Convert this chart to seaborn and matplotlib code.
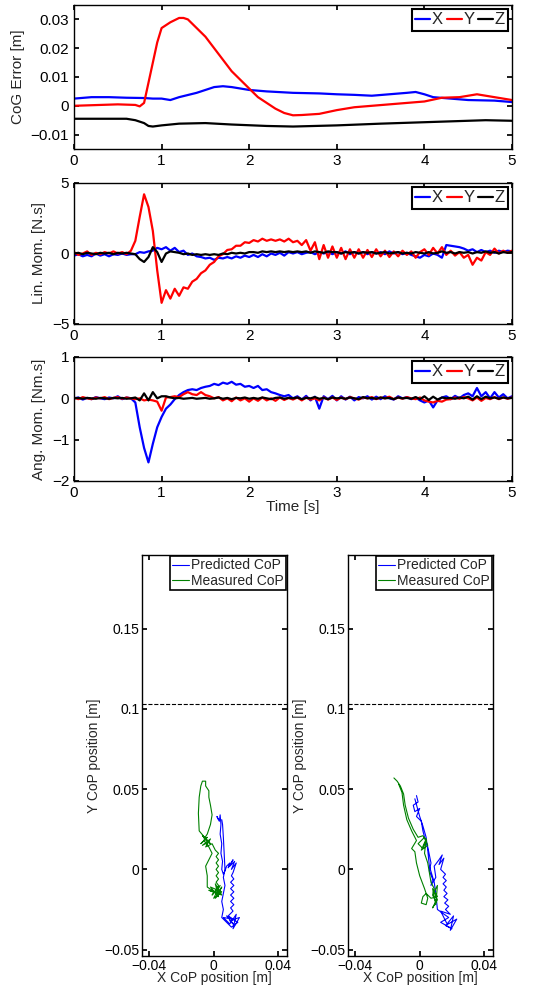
import numpy as np
import pandas as pd
import matplotlib
matplotlib.use("Agg")
import matplotlib.pyplot as plt
import seaborn as sns
from matplotlib.ticker import FuncFormatter

# ---- CoG error (smooth traces, read at key times) ----
cog_x_t = [0, 0.2, 0.4, 0.6, 0.8, 0.9, 1.0, 1.1, 1.2, 1.4, 1.6, 1.7, 1.8, 2.0, 2.2, 2.5,
           2.8, 3.0, 3.2, 3.4, 3.6, 3.8, 3.9, 4.0, 4.1, 4.3, 4.5, 4.8, 5.0]
cog_x = [0.0025, 0.003, 0.003, 0.0028, 0.0027, 0.0025, 0.0025, 0.002, 0.003, 0.0045, 0.0065,
         0.0068, 0.0065, 0.0055, 0.005, 0.0045, 0.0043, 0.004, 0.0038, 0.0035, 0.004, 0.0045,
         0.0048, 0.004, 0.003, 0.0025, 0.002, 0.0018, 0.0013]
cog_y_t = [0, 0.3, 0.5, 0.7, 0.75, 0.8, 0.85, 0.9, 0.95, 1.0, 1.1, 1.2, 1.25, 1.3, 1.4, 1.5,
           1.6, 1.7, 1.8, 1.9, 2.0, 2.1, 2.2, 2.3, 2.4, 2.5, 2.6, 2.8, 3.0, 3.2, 3.4, 3.6,
           3.8, 4.0, 4.2, 4.4, 4.6, 4.7, 4.8, 5.0]
cog_y = [0.0, 0.0003, 0.0005, 0.0003, -0.0002, 0.001, 0.008, 0.015, 0.022, 0.027, 0.029,
         0.0305, 0.0305, 0.030, 0.027, 0.024, 0.020, 0.016, 0.012, 0.009, 0.006, 0.003, 0.001,
         -0.001, -0.0025, -0.0033, -0.0032, -0.0028, -0.0015, -0.0005, 0.0, 0.0005, 0.001,
         0.0015, 0.0028, 0.003, 0.004, 0.0035, 0.003, 0.002]
cog_z_t = [0, 0.6, 0.7, 0.8, 0.85, 0.9, 1.0, 1.2, 1.5, 1.8, 2.2, 2.5, 3.0, 3.5, 4.0, 4.5, 4.7, 5.0]
cog_z = [-0.0045, -0.0045, -0.005, -0.006, -0.007, -0.0072, -0.0068, -0.0062, -0.006, -0.0065,
         -0.007, -0.0072, -0.0068, -0.0062, -0.0057, -0.0052, -0.005, -0.0052]

# ---- momenta, sampled every 0.05 s from 0 to 5 s ----
time_s = np.linspace(0, 5, 101)

lin_x = [-0.15, -0.05, -0.2, -0.1, -0.2, 0.0, -0.15, -0.05, -0.2, -0.05,
         -0.1, 0.0, -0.1, -0.05, -0.05, 0.1, 0.05, 0.15, 0.2, 0.4,
         0.3, 0.45, 0.2, 0.4, 0.1, 0.2, -0.1, 0.0, -0.2, -0.25,
         -0.35, -0.3, -0.45, -0.3, -0.35, -0.25, -0.35, -0.2, -0.3, -0.15,
         -0.25, -0.1, -0.25, -0.05, -0.2, 0.0, -0.1, 0.05, -0.15, 0.1,
         0.0, 0.1, -0.05, 0.05, 0.1, -0.05, 0.1, 0.0, 0.1, -0.05,
         0.1, 0.0, 0.15, -0.05, 0.1, 0.0, 0.1, -0.05, 0.1, 0.0,
         0.1, -0.05, 0.15, 0.0, 0.1, -0.05, 0.05, -0.1, -0.2, -0.3,
         -0.1, -0.2, 0.0, -0.1, -0.3, 0.6, 0.55, 0.5, 0.45, 0.35,
         0.2, 0.3, 0.1, 0.25, 0.1, 0.2, 0.05, 0.2, 0.1, 0.2,
         0.15]
lin_y = [0.1, -0.1, 0.0, 0.15, -0.1, 0.05, -0.05, 0.1, 0.0, 0.15,
         0.0, 0.1, -0.05, 0.2, 0.9, 2.6, 4.2, 3.3, 1.6, -1.2,
         -3.5, -2.6, -3.2, -2.5, -3.0, -2.4, -2.5, -2.0, -1.8, -1.4,
         -1.2, -0.8, -0.6, -0.2, -0.05, 0.25, 0.3, 0.55, 0.55, 0.8,
         0.75, 0.95, 0.85, 1.05, 0.9, 1.0, 0.9, 1.0, 0.85, 1.05,
         0.8, 0.9, 0.6, 0.95, 0.2, 0.8, -0.4, 0.6, -0.3, 0.5,
         -0.3, 0.4, -0.4, 0.3, -0.3, 0.3, -0.3, 0.25, -0.25, 0.3,
         -0.2, 0.2, -0.25, 0.15, -0.2, 0.2, -0.1, 0.15, -0.3, 0.1,
         0.3, -0.1, 0.4, 0.0, 0.45, -0.1, 0.2, -0.15, 0.1, -0.3,
         -0.1, -0.8, -0.3, -0.5, 0.1, -0.1, 0.35, 0.0, 0.2, 0.05,
         0.2]
lin_z = [0.0, 0.05, -0.05, 0.05, 0.0, -0.05, 0.05, 0.0, 0.05, -0.05,
         0.05, 0.0, 0.05, 0.0, -0.05, -0.4, -0.6, -0.25, 0.45, 0.1,
         -0.6, 0.0, 0.15, 0.1, 0.05, -0.05, 0.0, -0.1, -0.05, -0.1,
         -0.05, -0.1, -0.05, -0.1, 0.0, -0.05, 0.05, 0.0, 0.05, 0.0,
         0.1, 0.1, 0.05, 0.15, 0.1, 0.15, 0.1, 0.15, 0.1, 0.15,
         0.1, 0.15, 0.1, 0.15, 0.05, 0.15, 0.1, 0.05, 0.15, 0.1,
         0.1, 0.0, 0.1, 0.05, 0.1, 0.0, 0.1, 0.05, 0.1, 0.0,
         0.05, 0.1, 0.0, 0.05, 0.1, 0.0, 0.05, 0.0, 0.1, 0.05,
         0.0, 0.1, 0.0, 0.05, 0.15, 0.05, 0.1, 0.0, 0.1, 0.05,
         0.1, 0.0, 0.1, 0.05, 0.15, 0.05, 0.1, 0.0, 0.1, 0.05,
         0.1]

ang_x = [0.0, 0.02, -0.03, 0.01, -0.02, 0.03, 0.0, -0.02, 0.02, 0.0,
         0.05, -0.02, 0.02, 0.0, -0.1, -0.7, -1.2, -1.55, -1.1, -0.7,
         -0.45, -0.25, -0.15, -0.02, 0.08, 0.15, 0.2, 0.22, 0.2, 0.25,
         0.28, 0.3, 0.35, 0.32, 0.38, 0.35, 0.4, 0.33, 0.35, 0.28,
         0.3, 0.25, 0.3, 0.2, 0.22, 0.15, 0.12, 0.08, 0.05, 0.08,
         0.0, 0.05, -0.03, 0.06, -0.05, 0.04, -0.25, 0.05, -0.02, 0.06,
         -0.05, 0.05, -0.03, 0.04, -0.05, 0.03, 0.0, 0.05, -0.03, 0.04,
         -0.02, 0.05, 0.0, -0.03, 0.05, 0.0, 0.03, -0.02, 0.02, -0.05,
         -0.1, -0.05, -0.22, -0.05, 0.02, 0.05, -0.02, 0.06, 0.0, 0.08,
         0.12, 0.05, 0.25, 0.05, 0.15, 0.0, 0.15, 0.02, 0.1, 0.0,
         0.05]
ang_y = [0.02, -0.02, 0.03, 0.0, -0.02, 0.02, 0.0, 0.03, -0.02, 0.01,
         0.03, -0.01, 0.02, 0.0, -0.02, 0.0, -0.05, -0.03, -0.05, -0.08,
         -0.3, 0.02, 0.03, 0.05, 0.03, 0.1, 0.15, 0.1, 0.08, 0.15,
         0.08, 0.05, 0.0, 0.03, -0.05, 0.0, -0.07, 0.02, -0.05, 0.0,
         -0.08, 0.0, -0.06, 0.02, -0.05, 0.0, -0.06, 0.02, -0.04, 0.01,
         -0.03, 0.02, -0.05, 0.02, -0.03, 0.0, -0.05, 0.02, -0.03, 0.02,
         -0.04, 0.02, -0.02, 0.03, 0.0, -0.03, 0.02, 0.0, 0.03, -0.02,
         0.02, 0.0, 0.04, -0.02, 0.02, -0.01, 0.03, 0.0, -0.02, 0.02,
         -0.05, -0.08, -0.1, -0.06, -0.08, -0.03, -0.02, 0.02, -0.01, 0.03,
         0.0, -0.05, 0.02, -0.06, 0.01, -0.02, 0.03, -0.02, 0.02, -0.01,
         0.02]
ang_z = [0.0, 0.01, -0.01, 0.01, 0.0, -0.01, 0.01, 0.0, -0.01, 0.01,
         0.0, 0.01, -0.01, 0.0, 0.02, -0.05, 0.12, -0.05, 0.15, 0.0,
         0.05, 0.05, 0.02, 0.0, 0.01, -0.01, 0.0, 0.01, -0.01, 0.0,
         0.01, -0.01, 0.0, 0.02, -0.01, 0.01, -0.02, 0.01, 0.0, 0.02,
         -0.01, 0.01, -0.01, 0.02, 0.0, -0.02, 0.01, 0.02, -0.01, 0.01,
         0.0, 0.02, -0.02, 0.01, 0.0, 0.03, -0.01, 0.01, -0.02, 0.02,
         0.0, 0.01, -0.01, 0.02, 0.0, -0.02, 0.03, 0.0, 0.01, -0.01,
         0.02, 0.0, 0.01, -0.02, 0.02, 0.0, 0.01, -0.01, 0.03, -0.02,
         0.05, -0.04, 0.04, -0.03, 0.02, 0.0, 0.01, -0.01, 0.02, 0.0,
         0.04, -0.03, 0.05, -0.02, 0.04, 0.0, 0.02, -0.01, 0.02, 0.0,
         0.01]

# ---- CoP trajectories (x, y in m) ----
pred_left_x = [0.003, 0.002, 0.0035, 0.004, 0.0045, 0.004, 0.005, 0.0045, 0.0055, 0.005,
               0.006, 0.007, 0.008, 0.010, 0.009, 0.012, 0.010, 0.013, 0.011, 0.014,
               0.012, 0.011, 0.0125, 0.0105, 0.0125, 0.0105, 0.0125, 0.0105, 0.0125, 0.0105,
               0.0125, 0.0105, 0.012, 0.009, 0.012, 0.006, 0.010, 0.014, 0.012, 0.016,
               0.010, 0.013, 0.008, 0.015, 0.011, 0.005, 0.006, 0.005, 0.006, 0.007,
               0.006, 0.007, 0.0065, 0.006, 0.0055, 0.005]
pred_left_y = [0.031, 0.033, 0.030, 0.034, 0.028, 0.022, 0.016, 0.010, 0.005, 0.0,
               -0.003, -0.001, 0.002, 0.004, 0.001, 0.006, 0.002, 0.005, 0.0, 0.004,
               -0.002, -0.004, -0.006, -0.008, -0.010, -0.012, -0.014, -0.016, -0.018, -0.020,
               -0.022, -0.024, -0.026, -0.029, -0.031, -0.030, -0.034, -0.028, -0.037, -0.030,
               -0.032, -0.035, -0.029, -0.033, -0.036, -0.030, -0.025, -0.020, -0.015, -0.010,
               -0.005, 0.0, 0.010, 0.020, 0.028, 0.031]
meas_left_x = [0.002, -0.001, 0.004, 0.0, 0.005, -0.002, 0.003, 0.001, 0.005, -0.003,
               0.002, -0.004, -0.004, -0.005, -0.003, -0.001, -0.003, -0.006, -0.004, -0.008,
               -0.005, -0.002, -0.007, -0.004, -0.009, -0.0095, -0.009, -0.008, -0.007, -0.005,
               -0.005, -0.003, -0.003, -0.002, -0.001, -0.002, -0.004, -0.006, -0.003, -0.007,
               -0.002, -0.005, -0.001, 0.001, 0.003, 0.0015, 0.003, 0.0015, 0.003, 0.0015,
               0.003, 0.0015, 0.003, 0.0015, 0.003, 0.002, 0.004, 0.001, 0.005, 0.002]
meas_left_y = [-0.012, -0.016, -0.010, -0.018, -0.014, -0.011, -0.017, -0.009, -0.016, -0.013,
               -0.015, -0.011, -0.004, 0.002, 0.006, 0.010, 0.014, 0.018, 0.020, 0.016,
               0.019, 0.016, 0.021, 0.018, 0.024, 0.035, 0.045, 0.052, 0.055, 0.055,
               0.052, 0.049, 0.045, 0.040, 0.034, 0.028, 0.022, 0.019, 0.017, 0.015,
               0.019, 0.014, 0.016, 0.012, 0.010, 0.008, 0.006, 0.004, 0.002, 0.0,
               -0.002, -0.004, -0.006, -0.008, -0.010, -0.012, -0.015, -0.018, -0.011, -0.016]

pred_right_x = [-0.002, -0.001, -0.004, -0.003, 0.000, -0.002, 0.001, 0.002, 0.003, 0.005,
                0.006, 0.007, 0.006, 0.008, 0.007, 0.010, 0.009, 0.012, 0.014, 0.012,
                0.015, 0.013, 0.016, 0.0145, 0.0165, 0.0145, 0.0165, 0.015, 0.017, 0.015,
                0.0175, 0.0155, 0.018, 0.016, 0.019, 0.013, 0.017, 0.021, 0.019, 0.023,
                0.016, 0.020, 0.013, 0.018, 0.011, 0.010, 0.009, 0.006, 0.005, 0.004,
                0.002, 0.000, -0.003]
pred_right_y = [0.046, 0.042, 0.040, 0.036, 0.038, 0.033, 0.030, 0.024, 0.020, 0.014,
                0.009, 0.004, -0.001, -0.006, -0.010, -0.005, 0.002, 0.006, 0.009, 0.003,
                0.007, 0.0, -0.003, -0.005, -0.007, -0.009, -0.011, -0.013, -0.015, -0.017,
                -0.019, -0.021, -0.023, -0.025, -0.028, -0.026, -0.034, -0.029, -0.038, -0.031,
                -0.035, -0.037, -0.033, -0.030, -0.025, -0.015, -0.008, 0.002, 0.012, 0.020,
                0.027, 0.033, 0.044]
meas_right_x = [-0.016, -0.014, -0.012, -0.010, -0.009, -0.007, -0.004, -0.001, 0.002, 0.004,
                0.002, -0.001, 0.003, 0.005, 0.001, 0.004, 0.003, 0.005, 0.006, 0.007,
                0.009, 0.008, 0.010, 0.008, 0.011, 0.009, 0.011, 0.010, 0.008, 0.011,
                0.007, 0.004, 0.002, 0.001, 0.004, 0.005, 0.003, 0.000, -0.002, -0.003,
                -0.005, -0.002, -0.005, -0.008, -0.010, -0.011, -0.013]
meas_right_y = [0.057, 0.055, 0.052, 0.047, 0.040, 0.032, 0.025, 0.020, 0.021, 0.018,
                0.013, 0.016, 0.020, 0.015, 0.012, 0.019, 0.010, 0.004, -0.002, -0.008,
                -0.012, -0.016, -0.020, -0.024, -0.019, -0.014, -0.010, -0.022, -0.012, -0.017,
                -0.018, -0.015, -0.017, -0.021, -0.022, -0.018, -0.012, -0.004, 0.004, 0.011,
                0.013, 0.018, 0.024, 0.031, 0.040, 0.048, 0.053]

foot_limit = 0.103  # dashed line in CoP plots

sns.set_theme(style="ticks")
plt.rcParams['font.family'] = ['Liberation Sans', 'DejaVu Sans']
plt.rcParams.update({
    'xtick.direction': 'in', 'ytick.direction': 'in',
    'xtick.top': True, 'ytick.right': True,
    'axes.edgecolor': 'black', 'axes.linewidth': 1.0,
    'xtick.color': 'black', 'ytick.color': 'black',
    'xtick.major.size': 3.5, 'ytick.major.size': 3.5,
})

palette = {'X': '#0000ff', 'Y': '#ff0000', 'Z': '#000000'}


def fmt(v, pos):
    return ('%g' % v).replace('-', '\u2212')


def long_df(series):
    parts = []
    for name, (t, v) in series.items():
        parts.append(pd.DataFrame({'t': t, 'v': v, 'axis': name}))
    return pd.concat(parts, ignore_index=True)


def time_panel(ax, df, ylim, yticks, ylabel):
    sns.lineplot(data=df, x='t', y='v', hue='axis', palette=palette, sort=False,
                 estimator=None, linewidth=1.6, ax=ax)
    ax.set_xlim(0, 5)
    ax.set_ylim(*ylim)
    ax.set_xticks([0, 1, 2, 3, 4, 5])
    ax.set_yticks(yticks)
    ax.xaxis.set_major_formatter(FuncFormatter(fmt))
    ax.yaxis.set_major_formatter(FuncFormatter(fmt))
    ax.tick_params(labelsize=11)
    ax.set_ylabel(ylabel, fontsize=11)
    ax.set_xlabel('')
    leg = ax.legend(ncol=3, loc='upper right', fontsize=12, handlelength=0.9,
                    handletextpad=0.1, columnspacing=0.2, borderpad=0.2,
                    borderaxespad=0.25, fancybox=False, framealpha=1)
    leg.get_frame().set_edgecolor('black')
    leg.get_frame().set_linewidth(1.5)
    for h in leg.get_lines():
        h.set_linewidth(1.6)


def cop_panel(ax, px, py, mx, my):
    df = pd.concat([
        pd.DataFrame({'x': px, 'y': py, 'src': 'Predicted CoP'}),
        pd.DataFrame({'x': mx, 'y': my, 'src': 'Measured CoP'}),
    ], ignore_index=True)
    sns.lineplot(data=df, x='x', y='y', hue='src', sort=False, estimator=None,
                 palette={'Predicted CoP': '#0000ff', 'Measured CoP': '#008000'},
                 linewidth=0.8, ax=ax)
    ax.axhline(foot_limit, color='black', linestyle='--', linewidth=0.8)
    ax.set_xlim(-0.0445, 0.0455)
    ax.set_ylim(-0.054, 0.196)
    ax.set_xticks([-0.04, 0, 0.04])
    ax.set_yticks([-0.05, 0, 0.05, 0.1, 0.15])
    ax.xaxis.set_major_formatter(FuncFormatter(fmt))
    ax.yaxis.set_major_formatter(FuncFormatter(fmt))
    ax.tick_params(labelsize=10, pad=2)
    ax.set_xlabel('X CoP position [m]', fontsize=10, labelpad=-1)
    ax.set_ylabel('Y CoP position [m]', fontsize=10, labelpad=2)
    leg = ax.legend(loc='upper right', fontsize=10, handlelength=1.2,
                    handletextpad=0.15, borderpad=0.15, borderaxespad=0.1,
                    labelspacing=0.1, fancybox=False, framealpha=1)
    leg.get_frame().set_edgecolor('black')
    leg.get_frame().set_linewidth(1.2)


fig = plt.figure(figsize=(5.59, 9.85), dpi=100)
W, H = 559.0, 985.0
ax1 = fig.add_axes([74 / W, 1 - 149 / H, 438 / W, 144 / H])
ax2 = fig.add_axes([74 / W, 1 - 324 / H, 438 / W, 141 / H])
ax3 = fig.add_axes([74 / W, 1 - 481 / H, 438 / W, 124 / H])
ax4 = fig.add_axes([142 / W, 1 - 956 / H, 145 / W, 401 / H])
ax5 = fig.add_axes([348 / W, 1 - 956 / H, 145 / W, 401 / H])

time_panel(ax1, long_df({'X': (cog_x_t, cog_x), 'Y': (cog_y_t, cog_y), 'Z': (cog_z_t, cog_z)}),
           (-0.015, 0.035), [-0.01, 0, 0.01, 0.02, 0.03], 'CoG Error [m]')
time_panel(ax2, long_df({'X': (time_s, lin_x), 'Y': (time_s, lin_y), 'Z': (time_s, lin_z)}),
           (-5, 5), [-5, 0, 5], 'Lin. Mom. [N.s]')
time_panel(ax3, long_df({'X': (time_s, ang_x), 'Y': (time_s, ang_y), 'Z': (time_s, ang_z)}),
           (-2, 1), [-2, -1, 0, 1], 'Ang. Mom. [Nm.s]')
ax3.set_xlabel('Time [s]', fontsize=11, labelpad=0)

cop_panel(ax4, pred_left_x, pred_left_y, meas_left_x, meas_left_y)
cop_panel(ax5, pred_right_x, pred_right_y, meas_right_x, meas_right_y)

fig.savefig('out.png', dpi=100)
